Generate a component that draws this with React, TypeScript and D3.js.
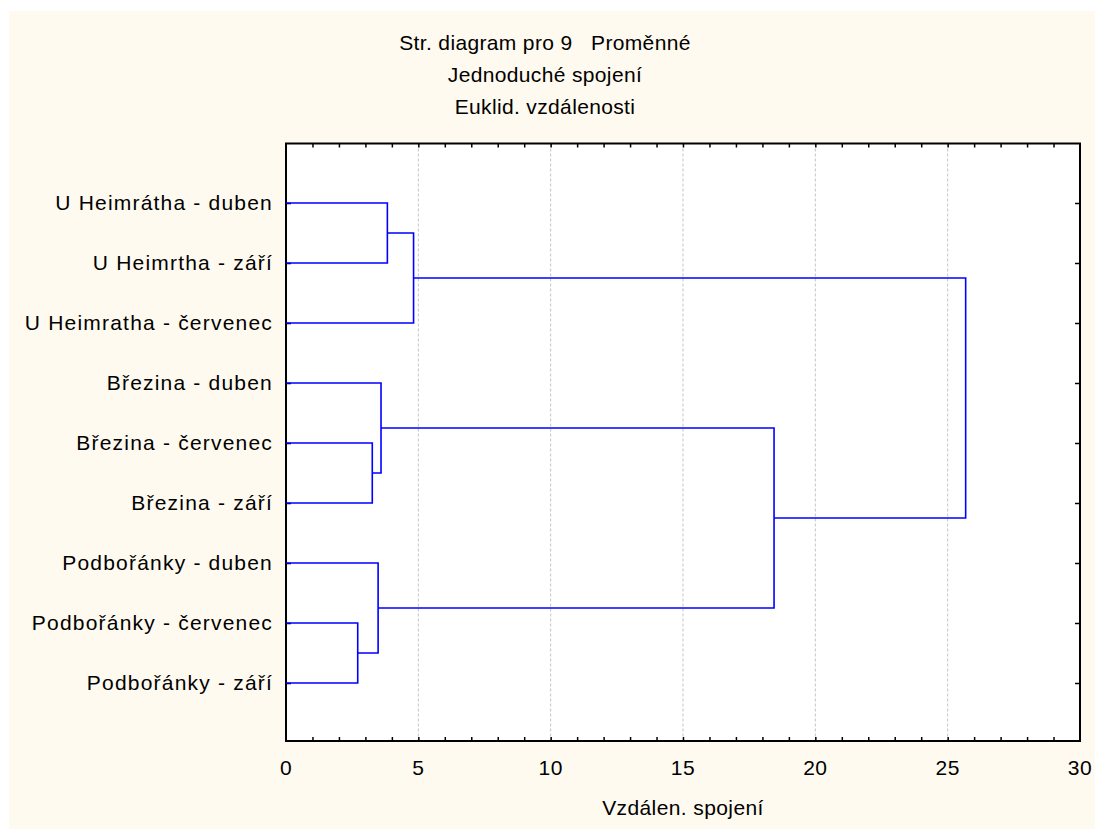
// Imports
import * as d3 from 'd3';
import React from 'react';
import { useRef, useEffect } from "react";

// Leaf labels, top to bottom
const leaves = [
    "U Heimrátha - duben",
    "U Heimrtha - září",
    "U Heimratha - červenec",
    "Březina - duben",
    "Březina - červenec",
    "Březina - září",
    "Podbořánky - duben",
    "Podbořánky - červenec",
    "Podbořánky - září",
];

// Merges like a linkage matrix: [child a, child b, distance]
// index < 9 is a leaf, index >= 9 is the cluster made by merge (index - 9)
const merges = [
    [0, 1, 3.83],
    [9, 2, 4.82],
    [4, 5, 3.26],
    [3, 11, 3.59],
    [7, 8, 2.71],
    [6, 13, 3.48],
    [12, 14, 18.44],
    [10, 15, 25.68],
];

const xTicks = [0, 5, 10, 15, 20, 25, 30];
const titles = ["Str. diagram pro 9   Proměnné", "Jednoduché spojení", "Euklid. vzdálenosti"];
const xLabel = "Vzdálen. spojení";

// Define width, height
const width = 1095;
const height = 829;
const plot = { left: 286, right: 1080, top: 143.5, bottom: 741 };
const font = "'Liberation Sans', Arial, sans-serif";

export default function App() {

    const svgRef = useRef(null);

    function drawDendrogram() {
        const svg = d3.select(svgRef.current);
        svg.selectAll("*").remove();

        // Background
        svg.append("rect")
            .attr("x", 9).attr("y", 11)
            .attr("width", width - 9).attr("height", height - 11)
            .attr("fill", "#fffaef");

        svg.append("rect")
            .attr("x", plot.left).attr("y", plot.top)
            .attr("width", plot.right - plot.left).attr("height", plot.bottom - plot.top)
            .attr("fill", "#ffffff");

        const x = d3.scaleLinear().domain([0, 30]).range([plot.left, plot.right]);
        const y = d3.scalePoint().domain(leaves).range([143, 743]).padding(1);

        // Grid lines
        svg.append("g").selectAll("line")
            .data(xTicks.slice(1, -1))
            .enter().append("line")
            .attr("x1", d => x(d)).attr("x2", d => x(d))
            .attr("y1", plot.top).attr("y2", plot.bottom)
            .attr("stroke", "#c4c4c4")
            .attr("stroke-width", 1)
            .attr("stroke-dasharray", "3,2");

        // Axes: ticks point inward on all four sides
        const minor = d3.range(1, 30);
        svg.append("g")
            .attr("transform", `translate(0,${plot.top})`)
            .call(d3.axisBottom(x).tickValues(minor).tickSize(4).tickFormat(() => ""))
            .call(g => g.select(".domain").remove());
        svg.append("g")
            .attr("transform", `translate(0,${plot.bottom})`)
            .call(d3.axisTop(x).tickValues(minor).tickSize(4).tickFormat(() => ""))
            .call(g => g.select(".domain").remove());
        svg.append("g")
            .attr("transform", `translate(${plot.left},0)`)
            .call(d3.axisRight(y).tickSize(5).tickFormat(() => ""))
            .call(g => g.select(".domain").remove());
        svg.append("g")
            .attr("transform", `translate(${plot.right},0)`)
            .call(d3.axisLeft(y).tickSize(5).tickFormat(() => ""))
            .call(g => g.select(".domain").remove());
        svg.selectAll(".tick line").attr("stroke", "#000").attr("stroke-width", 1.5);

        // Frame
        svg.append("rect")
            .attr("x", plot.left).attr("y", plot.top)
            .attr("width", plot.right - plot.left).attr("height", plot.bottom - plot.top)
            .attr("fill", "none")
            .attr("stroke", "#000")
            .attr("stroke-width", 2);

        // Dendrogram links
        const nodes = leaves.map(name => ({ h: 0, y: y(name) }));
        const links = svg.append("g");
        merges.forEach(([a, b, h]) => {
            const na = nodes[a], nb = nodes[b];
            const p = d3.path();
            p.moveTo(x(na.h), na.y);
            p.lineTo(x(h), na.y);
            p.lineTo(x(h), nb.y);
            p.lineTo(x(nb.h), nb.y);
            links.append("path")
                .attr("d", p.toString())
                .attr("fill", "none")
                .attr("stroke", "#0000ff")
                .attr("stroke-width", 1.6);
            nodes.push({ h: h, y: (na.y + nb.y) / 2 });
        });

        // Leaf labels
        svg.append("g").selectAll("text")
            .data(leaves)
            .enter().append("text")
            .attr("x", plot.left - 13)
            .attr("y", d => y(d))
            .attr("dy", "0.35em")
            .attr("text-anchor", "end")
            .attr("font-family", font)
            .attr("font-size", 21)
            .attr("letter-spacing", 1.2)
            .attr("fill", "#000")
            .text(d => d);

        // X tick labels
        svg.append("g").selectAll("text")
            .data(xTicks)
            .enter().append("text")
            .attr("x", d => x(d))
            .attr("y", 775)
            .attr("text-anchor", "middle")
            .attr("font-family", font)
            .attr("font-size", 21)
            .attr("letter-spacing", 0.5)
            .attr("fill", "#000")
            .text(d => d);

        // Axis title
        svg.append("text")
            .attr("x", (plot.left + plot.right) / 2)
            .attr("y", 815)
            .attr("text-anchor", "middle")
            .attr("font-family", font)
            .attr("font-size", 21)
            .attr("letter-spacing", 0.4)
            .attr("fill", "#000")
            .text(xLabel);

        // Titles
        svg.append("g").selectAll("text")
            .data(titles)
            .enter().append("text")
            .attr("x", 545)
            .attr("y", (d, i) => 50 + i * 32)
            .attr("text-anchor", "middle")
            .attr("font-family", font)
            .attr("font-size", 21)
            .attr("letter-spacing", 0.35)
            .style("white-space", "pre")
            .attr("fill", "#000")
            .text(d => d);
    }

    useEffect(() => {
        document.body.style.margin = "0";
        drawDendrogram();
    });

    return (
        <svg ref={svgRef} width={width} height={height} style={{ display: "block" }}></svg>
    );
}
